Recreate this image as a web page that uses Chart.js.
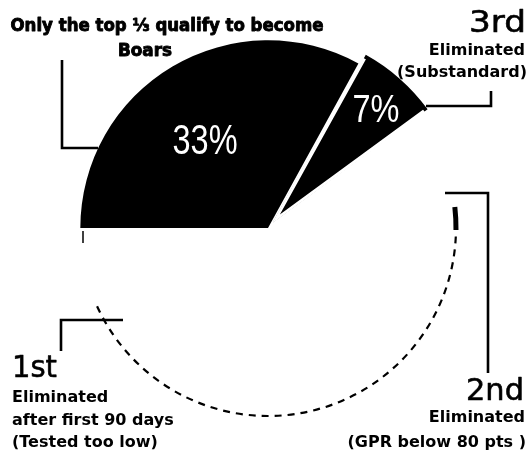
<!DOCTYPE html>
<html>
<head>
<meta charset="utf-8">
<script src="https://cdn.jsdelivr.net/npm/chart.js@4.4.0/dist/chart.umd.min.js"></script>
<style>
  html, body { margin: 0; padding: 0; background: #fff; }
</style>
</head>
<body>
<canvas id="myChart" width="530" height="457"></canvas>
<script>
// data
const groups = ['Boars', '3rd Eliminated', '2nd Eliminated', '1st Eliminated'];
const shares = [33, 7, 30, 30];
const sliceLabels = shares.slice(0, 2).map((v) => v + '%');

const deg = Math.PI / 180;

// fit a text line to a measured width (the print uses a wider face)
const fitText = (ctx, text, x, y, width, align, stroke) => {
    ctx.save();
    ctx.textAlign = 'left';
    const w = ctx.measureText(text).width;
    const sx = width / w;
    let left = x;
    if (align === 'center') left = x - width / 2;
    if (align === 'right') left = x - width;
    ctx.translate(left, y);
    ctx.scale(sx, 1);
    ctx.fillText(text, 0, 0);
    if (stroke) {
        ctx.lineWidth = stroke;
        ctx.strokeText(text, 0, 0);
    }
    ctx.restore();
};

const decorations = {
    id: 'decorations',
    afterDatasetsDraw(chart) {
        const ctx = chart.ctx;
        const arcs = chart.getDatasetMeta(0).data;

        // faint dashed rim of the eliminated part
        const second = arcs[2], first = arcs[3];
        const a0 = second.startAngle + 29.6 * deg;
        const a1 = first.endAngle - 23 * deg;
        ctx.save();
        ctx.strokeStyle = '#000';
        ctx.lineWidth = 5;
        ctx.beginPath();
        ctx.arc(second.x, second.y, second.outerRadius, a0, a0 + 7 * deg);
        ctx.stroke();
        ctx.lineWidth = 2.2;
        ctx.setLineDash([7, 6]);
        ctx.beginPath();
        ctx.arc(second.x, second.y, second.outerRadius, a0 + 9 * deg, a1);
        ctx.stroke();
        ctx.restore();

        // percentages on the black slices
        const place = [{ r: 106.6, da: -5.6, w: 65, size: 42 }, { r: 158.9, da: 1.4, w: 47, size: 38 }];
        ctx.save();
        ctx.fillStyle = '#fff';
        ctx.textBaseline = 'middle';
        sliceLabels.forEach((txt, i) => {
            const arc = arcs[i];
            const mid = (arc.startAngle + arc.endAngle) / 2 + place[i].da * deg;
            const x = arc.x + Math.cos(mid) * place[i].r;
            const y = arc.y + Math.sin(mid) * place[i].r;
            ctx.font = place[i].size + 'px "Liberation Sans", Arial, sans-serif';
            fitText(ctx, txt, x, y, place[i].w, 'center');
        });
        ctx.restore();
    },
    afterDraw(chart) {
        const ctx = chart.ctx;
        ctx.save();
        ctx.fillStyle = '#000';
        ctx.strokeStyle = '#000';
        ctx.lineWidth = 2.6;
        ctx.lineJoin = 'miter';

        // callout lines
        const lines = [
            [[62, 60], [62, 148], [98, 148]],
            [[426, 106], [491, 106], [491, 91]],
            [[445, 193], [488, 193], [488, 373]],
            [[123, 320], [61, 320], [61, 351]]
        ];
        lines.forEach((pts) => {
            ctx.beginPath();
            pts.forEach((p, i) => (i ? ctx.lineTo(p[0], p[1]) : ctx.moveTo(p[0], p[1])));
            ctx.stroke();
        });
        // small tick under the left corner of the big slice
        ctx.lineWidth = 1.5;
        ctx.beginPath();
        ctx.moveTo(83, 231);
        ctx.lineTo(83, 243);
        ctx.stroke();

        // title
        ctx.lineJoin = 'round';
        ctx.font = 'bold 17px "DejaVu Sans", sans-serif';
        ctx.textBaseline = 'alphabetic';
        fitText(ctx, 'Only the top \u2153 qualify to become', 167, 31, 313, 'center', 0.9);
        fitText(ctx, 'Boars', 145, 56, 54, 'center', 0.9);

        // ordinals
        ctx.font = '30px "DejaVu Sans", sans-serif';
        fitText(ctx, '3rd', 526, 32, 57, 'right', 0.6);
        fitText(ctx, '2nd', 524, 400, 58, 'right', 0.6);
        fitText(ctx, '1st', 12, 377, 45, 'left', 0.6);

        // notes
        ctx.font = 'bold 16px "DejaVu Sans", sans-serif';
        ctx.textAlign = 'right';
        ctx.fillText('Eliminated', 525, 55);
        ctx.fillText('(Substandard)', 527, 77);
        ctx.fillText('Eliminated', 525, 422);
        ctx.fillText('(GPR below 80 pts )', 526, 447);
        ctx.textAlign = 'left';
        ctx.fillText('Eliminated', 12, 402);
        ctx.fillText('after first 90 days', 12, 425);
        ctx.fillText('(Tested too low)', 12, 447);
        ctx.restore();
    }
};

const ctx = document.getElementById('myChart').getContext('2d');
const myChart = new Chart(ctx, {
    type: 'pie',
    data: {
        labels: groups,
        datasets: [{
            data: shares,
            backgroundColor: ['#000', '#000', 'rgba(0,0,0,0)', 'rgba(0,0,0,0)'],
            borderColor: '#fff',
            borderWidth: [0, 2.3, 0, 0],
            borderAlign: 'inner',
            borderJoinStyle: 'miter',
            offset: [0, 29, 0, 0]
        }]
    },
    options: {
        responsive: false,
        animation: false,
        events: [],
        rotation: -90,
        radius: 188,
        layout: { padding: { left: 6, bottom: 1 } },
        plugins: {
            legend: { display: false },
            tooltip: { enabled: false }
        }
    },
    plugins: [decorations]
});
</script>
</body>
</html>
